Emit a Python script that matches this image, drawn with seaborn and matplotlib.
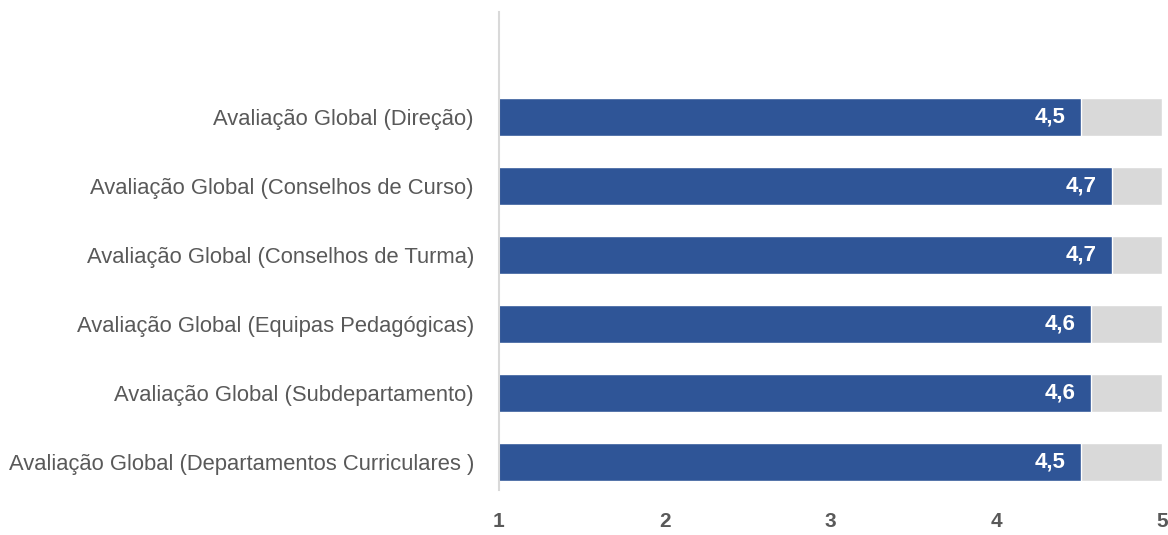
import pandas as pd
import seaborn as sns
import matplotlib.pyplot as plt
from matplotlib import font_manager

categories = [
    'Avaliação Global (Direção)',
    'Avaliação Global (Conselhos de Curso)',
    'Avaliação Global (Conselhos de Turma)',
    'Avaliação Global (Equipas Pedagógicas)',
    'Avaliação Global (Subdepartamento)',
    'Avaliação Global (Departamentos Curriculares )',
]
scores = [4.51, 4.70, 4.70, 4.57, 4.57, 4.51]
scale_max = [5, 5, 5, 5, 5, 5]
x_ticks = [1, 2, 3, 4, 5]

names = {f.name for f in font_manager.fontManager.ttflist}
narrow = 'Liberation Sans Narrow' if 'Liberation Sans Narrow' in names else 'Liberation Sans'

sns.set_style('white')
plt.rcParams['font.family'] = [narrow, 'DejaVu Sans']

df = pd.DataFrame({'cat': categories, 'score': scores, 'max': scale_max})

fig = plt.figure(figsize=(11.68, 5.35), dpi=100)
ax = fig.add_axes([0.4272, 0.0841, 0.5677, 0.8935])

sns.barplot(data=df, x='max', y='cat', color='#D9D9D9', width=0.55, ax=ax, saturation=1)
sns.barplot(data=df, x='score', y='cat', color='#2F5597', width=0.55, ax=ax, saturation=1)

for i, v in enumerate(scores):
    ax.annotate(f'{v:.1f}'.replace('.', ','), xy=(v, i), xytext=(-11, 0),
                textcoords='offset points', ha='right', va='center',
                color='white', fontsize=16, fontweight='bold')

ax.set_xlim(1, 5)
ax.set_ylim(5.4, -1.52)
ax.set_xticks(x_ticks)
ax.set_xticklabels([str(t) for t in x_ticks], fontsize=15, fontweight='bold', color='#595959')
ax.tick_params(axis='x', length=0, pad=16)
ax.tick_params(axis='y', length=0, pad=18, labelsize=15.8, labelcolor='#595959')
ax.set_xlabel('')
ax.set_ylabel('')
for s in ['top', 'right', 'bottom']:
    ax.spines[s].set_visible(False)
ax.spines['left'].set_color('#D9D9D9')
ax.spines['left'].set_linewidth(1.5)

fig.savefig('out.png', dpi=100)
